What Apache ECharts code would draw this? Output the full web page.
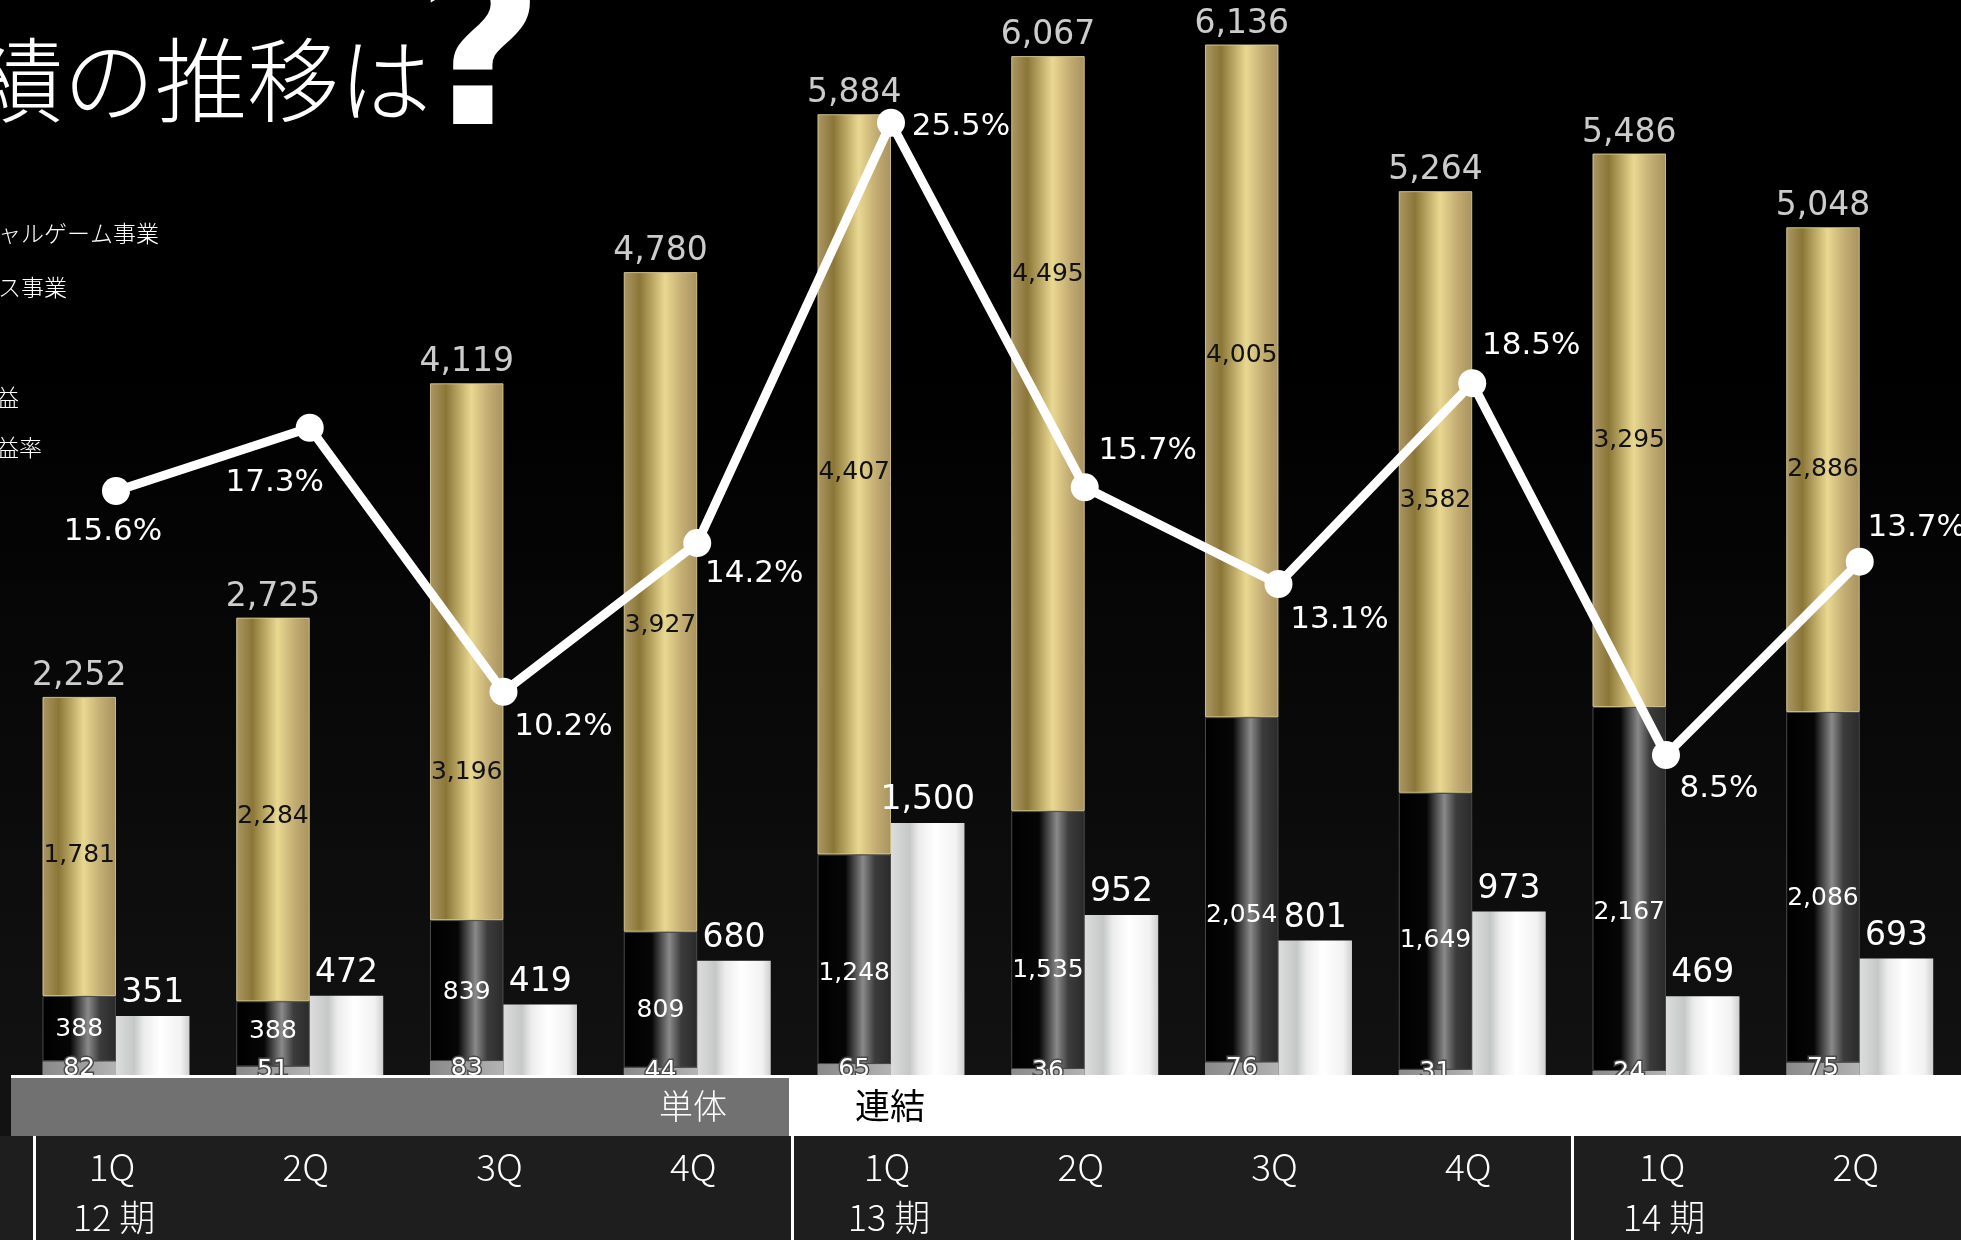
<!DOCTYPE html>
<html>
<head>
<meta charset="utf-8">
<script src="https://cdn.jsdelivr.net/npm/echarts@6/dist/echarts.min.js"></script>
<style>
html,body{margin:0;padding:0;background:#000;}
#chart{width:1961px;height:1240px;}
</style>
</head>
<body>
<div id="chart"></div>
<script>
// ---- data ----
const categories = ['12期 1Q','12期 2Q','12期 3Q','12期 4Q','13期 1Q','13期 2Q','13期 3Q','13期 4Q','14期 1Q','14期 2Q'];
const quarterLabels = ['1Q','2Q','3Q','4Q','1Q','2Q','3Q','4Q','1Q','2Q'];
const periodLabels = ['12 期','','','','13 期','','','','14 期',''];
const otherVals = [82, 51, 83, 44, 65, 36, 76, 31, 24, 75];
const mediaVals = [388, 388, 839, 809, 1248, 1535, 2054, 1649, 2167, 2086];
const gameVals = [1781, 2284, 3196, 3927, 4407, 4495, 4005, 3582, 3295, 2886];
const salesTotals = [2252, 2725, 4119, 4780, 5884, 6067, 6136, 5264, 5486, 5048];
const profitVals = [351, 472, 419, 680, 1500, 952, 801, 973, 469, 693];
const marginVals = [15.6, 17.3, 10.2, 14.2, 25.5, 15.7, 13.1, 18.5, 8.5, 13.7];
// label placement (style only)
const marginLabelOffsets = [[-3,41],[-35,55],[60,35],[57,31],[70,4],[63,-36],[61,36],[59,-37],[53,34],[57,-34]];
const gameLabelShift = [9, 7, 121, 24, -12, -159, -25, 9, 10, 0];
const mediaLabelShift = [1, -2, 2, 11, 14, 30, 26, 9, 24, 11];

const fmt = v => String(v).replace(/\B(?=(\d{3})+(?!\d))/g, ',');
const NUMFONT = "'DejaVu Sans', sans-serif";
const JPFONT = "'Noto Sans CJK JP', sans-serif";

const lin = (stops) => ({type:'linear', x:0, y:0, x2:1, y2:0, colorStops: stops.map(s => ({offset:s[0], color:s[1]}))});
const goldFill = lin([[0,'#ab9765'],[0.22,'#8b7637'],[0.56,'#e9d891'],[0.8,'#c2ac72'],[1,'#a8935f']]);
const darkFill = lin([[0,'#000'],[0.38,'#060606'],[0.62,'#8a8a8a'],[0.78,'#3c3c3c'],[1,'#2a2a2a']]);
const greyFill = lin([[0,'#8a8a8a'],[0.5,'#9c9c9c'],[1,'#b4b4b4']]);
const whiteFill = lin([[0,'#dcdcdc'],[0.25,'#c6c8c8'],[0.38,'#ececec'],[0.6,'#ffffff'],[0.88,'#f2f2f2'],[1,'#cfcfcf']]);

const BARW = 73.5;
const chart = echarts.init(document.getElementById('chart'), null, {renderer:'canvas'});

const option = {
  animation: false,
  backgroundColor: '#000',
  grid: {left: 19.1, top: 0, width: 1937.5, height: 1075},
  xAxis: {
    type: 'category',
    data: categories,
    z: 20,
    axisLine: {show: false},
    axisTick: {show: false},
    axisLabel: {
      interval: 0,
      margin: 66,
      formatter: (v, i) => periodLabels[i] ? `{q|${quarterLabels[i]}}\n{p|${periodLabels[i]}}` : `{q|${quarterLabels[i]}}`,
      rich: {
        q: {fontSize: 37, lineHeight: 51, color: '#fff', fontFamily: JPFONT, fontWeight: 300, padding: [0, 8, 0, 0]},
        p: {fontSize: 36, lineHeight: 51, color: '#fff', fontFamily: JPFONT, fontWeight: 300, padding: [0, 4, 0, 0]}
      }
    }
  },
  yAxis: [
    {type: 'value', min: 0, max: 6400, show: false, splitLine: {show: false}},
    {type: 'value', min: -0.1, max: 28.8, show: false, splitLine: {show: false}}
  ],
  graphic: [
    {type: 'rect', z: -10, silent: true, shape: {x: 0, y: 0, width: 1961, height: 1240},
     style: {fill: {type:'linear', x:0, y:0, x2:0, y2:1, colorStops:[{offset:0, color:'#000'},{offset:0.3, color:'#000'},{offset:0.87, color:'#121212'},{offset:1, color:'#121212'}]}}},
    {type: 'rect', z: 5, silent: true, shape: {x: 11, y: 1075, width: 1950, height: 3}, style: {fill: '#fff'}},
    {type: 'rect', z: 5, silent: true, shape: {x: 11, y: 1078, width: 778, height: 58}, style: {fill: '#717171'}},
    {type: 'rect', z: 5, silent: true, shape: {x: 789, y: 1075, width: 1172, height: 61}, style: {fill: '#fff'}},
    {type: 'rect', z: 4, silent: true, shape: {x: 0, y: 1136, width: 1961, height: 104}, style: {fill: '#1e1e1e'}},
    {type: 'rect', z: 5, silent: true, shape: {x: 33, y: 1136, width: 3, height: 104}, style: {fill: '#fff'}},
    {type: 'rect', z: 5, silent: true, shape: {x: 791, y: 1136, width: 3, height: 104}, style: {fill: '#fff'}},
    {type: 'rect', z: 5, silent: true, shape: {x: 1571, y: 1136, width: 3, height: 104}, style: {fill: '#fff'}},
    {type: 'text', z: 6, silent: true, style: {text: '単体', x: 693, y: 1106, fill: '#fff', font: `300 34px ${JPFONT}`, textAlign: 'center', textVerticalAlign: 'middle'}},
    {type: 'text', z: 6, silent: true, style: {text: '連結', x: 890, y: 1106, fill: '#000', font: `400 35px ${JPFONT}`, textAlign: 'center', textVerticalAlign: 'middle'}},
    {type: 'text', z: 6, silent: true, style: {text: '績の推移は', x: -29, y: 80, fill: '#fff', font: `200 92px ${JPFONT}`, textAlign: 'left', textVerticalAlign: 'middle'}},
    {type: 'text', z: 6, silent: true, style: {text: '?', x: 480, y: 66, fill: '#fff', font: `bold 222px 'DejaVu Sans', sans-serif`, textAlign: 'center', textVerticalAlign: 'middle'}},
    {type: 'text', z: 6, silent: true, style: {text: 'ャルゲーム事業', x: -2, y: 233, fill: '#fff', font: `300 23px ${JPFONT}`, textAlign: 'left', textVerticalAlign: 'middle'}},
    {type: 'text', z: 6, silent: true, style: {text: 'ス事業', x: -2, y: 287, fill: '#fff', font: `300 23px ${JPFONT}`, textAlign: 'left', textVerticalAlign: 'middle'}},
    {type: 'text', z: 6, silent: true, style: {text: '益', x: -4, y: 397, fill: '#fff', font: `300 23px ${JPFONT}`, textAlign: 'left', textVerticalAlign: 'middle'}},
    {type: 'text', z: 6, silent: true, style: {text: '益率', x: -4, y: 447, fill: '#fff', font: `300 23px ${JPFONT}`, textAlign: 'left', textVerticalAlign: 'middle'}}
  ],
  series: [
    {
      name: 'その他', type: 'bar', stack: 'sales', barWidth: BARW, barGap: '0%',
      data: otherVals,
      itemStyle: {color: greyFill},
      label: {show: true, position: 'inside', color: '#fff', fontFamily: NUMFONT, fontSize: 25,
              textBorderColor: '#4a4a4a', textBorderWidth: 3}
    },
    {
      name: 'メディア事業', type: 'bar', stack: 'sales', barWidth: BARW, barGap: '0%',
      data: mediaVals.map((v, i) => ({value: v, label: {offset: [0, mediaLabelShift[i]]}})),
      itemStyle: {color: darkFill, borderColor: '#4a4a4a', borderWidth: 1},
      label: {show: true, position: 'inside', color: '#fff', fontFamily: NUMFONT, fontSize: 25,
              formatter: p => fmt(p.value)}
    },
    {
      name: 'ソーシャルゲーム事業', type: 'bar', stack: 'sales', barWidth: BARW, barGap: '0%',
      data: gameVals.map((v, i) => ({value: v, label: {offset: [0, gameLabelShift[i]]}})),
      itemStyle: {color: goldFill, borderColor: 'rgba(225,210,150,0.85)', borderWidth: 1},
      label: {show: true, position: 'inside', color: '#111', fontFamily: NUMFONT, fontSize: 25,
              formatter: p => fmt(p.value)}
    },
    {
      name: '営業利益', type: 'bar', barWidth: BARW, barGap: '0%',
      data: profitVals,
      itemStyle: {color: whiteFill},
      label: {show: true, position: 'top', distance: 6, color: '#fff', fontFamily: NUMFONT, fontSize: 33,
              formatter: p => fmt(p.value)}
    },
    {
      name: '売上高', type: 'scatter', symbolSize: 0, z: 3,
      data: categories.map((c, i) => [i, otherVals[i] + mediaVals[i] + gameVals[i]]),
      label: {show: true, position: 'top', distance: 4, offset: [-BARW / 2, 0], color: '#fff',
              fontFamily: NUMFONT, fontSize: 33, formatter: p => fmt(salesTotals[p.dataIndex])}
    },
    {
      name: '営業利益率', type: 'line', yAxisIndex: 1, z: 4,
      data: marginVals.map((v, i) => ({value: v, label: {offset: marginLabelOffsets[i]}})),
      symbol: 'circle', symbolSize: 28,
      lineStyle: {color: '#fff', width: 9},
      itemStyle: {color: '#fff'},
      label: {show: true, position: 'inside', color: '#fff', fontFamily: NUMFONT, fontSize: 31,
              formatter: p => p.value.toFixed(1) + '%'}
    }
  ]
};
chart.setOption(option);
</script>
</body>
</html>
